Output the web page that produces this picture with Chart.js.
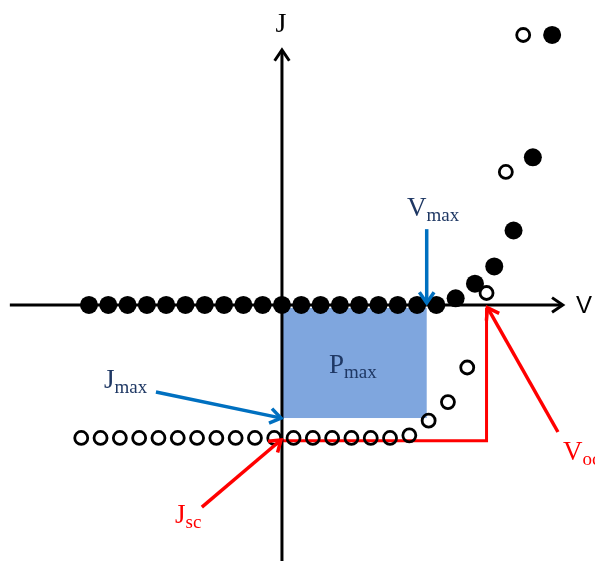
<!DOCTYPE html>
<html>
<head>
<meta charset="utf-8">
<script src="https://cdn.jsdelivr.net/npm/chart.js@4/dist/chart.umd.min.js"></script>
<style>
  html, body { margin: 0; padding: 0; background: #fff; }
  #jv { display: block; }
</style>
</head>
<body>
<canvas id="jv" width="595" height="561"></canvas>
<script>
// J-V curves (voltage in V, current density normalised to Jsc = -1)
const darkV = [-1.0, -0.9, -0.8, -0.7, -0.6, -0.5, -0.4, -0.3, -0.2, -0.1, 0.0, 0.1, 0.2,
               0.3, 0.4, 0.5, 0.6, 0.7, 0.8, 0.9, 1.0, 1.1, 1.2, 1.3, 1.4];
const darkJ = [0, 0, 0, 0, 0, 0, 0, 0, 0, 0, 0, 0, 0,
               0, 0, 0, 0, 0, 0, 0.05, 0.16, 0.29, 0.56, 1.11, 2.03];

const lightV = [-1.04, -0.94, -0.84, -0.74, -0.64, -0.54, -0.44, -0.34, -0.24, -0.14, -0.04, 0.06,
                0.16, 0.26, 0.36, 0.46, 0.56, 0.66, 0.76, 0.86, 0.96, 1.06, 1.16, 1.25];
const lightJ = [-1, -1, -1, -1, -1, -1, -1, -1, -1, -1, -1, -1,
                -1, -1, -1, -1, -1, -0.98, -0.87, -0.73, -0.47, 0.09, 1.0, 2.03];

// characteristic points
const Vmax = 0.75;
const Jmax = -0.85;
const Voc = 1.06;
const Jsc = -1.02;

const navy = '#1F3864';
const blue = '#0070C0';
const red = '#FF0000';

function arrow(ctx, x1, y1, x2, y2, color, width, head) {
  const a = Math.atan2(y2 - y1, x2 - x1);
  ctx.save();
  ctx.strokeStyle = color;
  ctx.lineWidth = width;
  ctx.lineCap = 'butt';
  ctx.lineJoin = 'miter';
  ctx.beginPath();
  ctx.moveTo(x1, y1);
  ctx.lineTo(x2 - Math.cos(a) * 2, y2 - Math.sin(a) * 2);
  ctx.stroke();
  ctx.beginPath();
  ctx.moveTo(x2 - head * Math.cos(a - 0.6), y2 - head * Math.sin(a - 0.6));
  ctx.lineTo(x2, y2);
  ctx.lineTo(x2 - head * Math.cos(a + 0.6), y2 - head * Math.sin(a + 0.6));
  ctx.stroke();
  ctx.restore();
}

function label(ctx, main, sub, x, y, color, size) {
  ctx.save();
  ctx.fillStyle = color;
  ctx.textBaseline = 'alphabetic';
  ctx.textAlign = 'left';
  ctx.font = size + 'px "Liberation Serif", serif';
  ctx.fillText(main, x, y);
  const w = ctx.measureText(main).width;
  ctx.font = Math.round(size * 0.72) + 'px "Liberation Serif", serif';
  ctx.fillText(sub, x + w, y + 5);
  ctx.restore();
}

const underlay = {
  id: 'underlay',
  beforeDatasetsDraw(chart) {
    const ctx = chart.ctx;
    const xs = chart.scales.x, ys = chart.scales.y;
    const x0 = xs.getPixelForValue(0), y0 = ys.getPixelForValue(0);

    // Pmax rectangle
    ctx.save();
    ctx.fillStyle = '#7FA6DE';
    const rx2 = xs.getPixelForValue(Vmax), ry2 = ys.getPixelForValue(Jmax);
    ctx.fillRect(x0, y0 + 3, rx2 - x0, ry2 - y0 - 3);
    ctx.restore();

    // Jsc -> Voc red path
    ctx.save();
    ctx.strokeStyle = red;
    ctx.lineWidth = 3;
    ctx.beginPath();
    ctx.moveTo(x0, ys.getPixelForValue(Jsc));
    ctx.lineTo(xs.getPixelForValue(Voc), ys.getPixelForValue(Jsc));
    ctx.lineTo(xs.getPixelForValue(Voc), ys.getPixelForValue(-0.02));
    ctx.stroke();
    ctx.restore();

    // axes
    arrow(ctx, xs.getPixelForValue(-1.41), y0, xs.getPixelForValue(1.455), y0, '#000', 3, 13);
    arrow(ctx, x0, chart.height, x0, ys.getPixelForValue(1.917), '#000', 3, 13);
  },
  afterDatasetsDraw(chart) {
    const ctx = chart.ctx;
    const xs = chart.scales.x, ys = chart.scales.y;
    const px = v => xs.getPixelForValue(v), py = j => ys.getPixelForValue(j);

    arrow(ctx, px(Vmax), py(0.57), px(Vmax), py(0.015), blue, 3.5, 13);
    arrow(ctx, px(-0.653), py(-0.654), px(-0.005), py(Jmax), blue, 3.5, 13);
    arrow(ctx, px(-0.415), py(-1.52), px(-0.005), py(-1.015), red, 3.5, 13);
    arrow(ctx, px(1.43), py(-0.955), px(Voc + 0.005), py(-0.02), red, 3.5, 13);

    label(ctx, 'V', 'max', 407, 216, navy, 27);
    label(ctx, 'J', 'max', 104, 388, navy, 27);
    label(ctx, 'P', 'max', 329, 373, navy, 27);
    label(ctx, 'J', 'sc', 175, 523, red, 27);
    label(ctx, 'V', 'oc', 563, 460, red, 27);

    ctx.save();
    ctx.fillStyle = '#000';
    ctx.font = '28px "Liberation Serif", serif';
    ctx.textAlign = 'center';
    ctx.fillText('J', px(0) - 1, 32);
    ctx.font = '24px "Liberation Sans", sans-serif';
    ctx.textAlign = 'left';
    ctx.fillText('V', 576, 313);
    ctx.restore();
  }
};

const toPoints = (vs, js) => vs.map((v, i) => ({ x: v, y: js[i] }));

new Chart(document.getElementById('jv').getContext('2d'), {
  type: 'scatter',
  data: {
    datasets: [
      {
        label: 'dark',
        data: toPoints(darkV, darkJ),
        pointRadius: 9,
        pointBackgroundColor: '#000',
        pointBorderColor: '#000',
        pointBorderWidth: 0
      },
      {
        label: 'light',
        data: toPoints(lightV, lightJ),
        pointRadius: 6.5,
        pointBackgroundColor: 'rgba(0,0,0,0)',
        pointBorderColor: '#000',
        pointBorderWidth: 2.8
      }
    ]
  },
  options: {
    responsive: false,
    animation: false,
    devicePixelRatio: 1,
    layout: { padding: 0, autoPadding: false },
    plugins: {
      legend: { display: false },
      tooltip: { enabled: false }
    },
    scales: {
      x: { type: 'linear', min: -1.461, max: 1.622, display: false },
      y: { type: 'linear', min: -1.925, max: 2.293, display: false }
    }
  },
  plugins: [underlay]
});
</script>
</body>
</html>
